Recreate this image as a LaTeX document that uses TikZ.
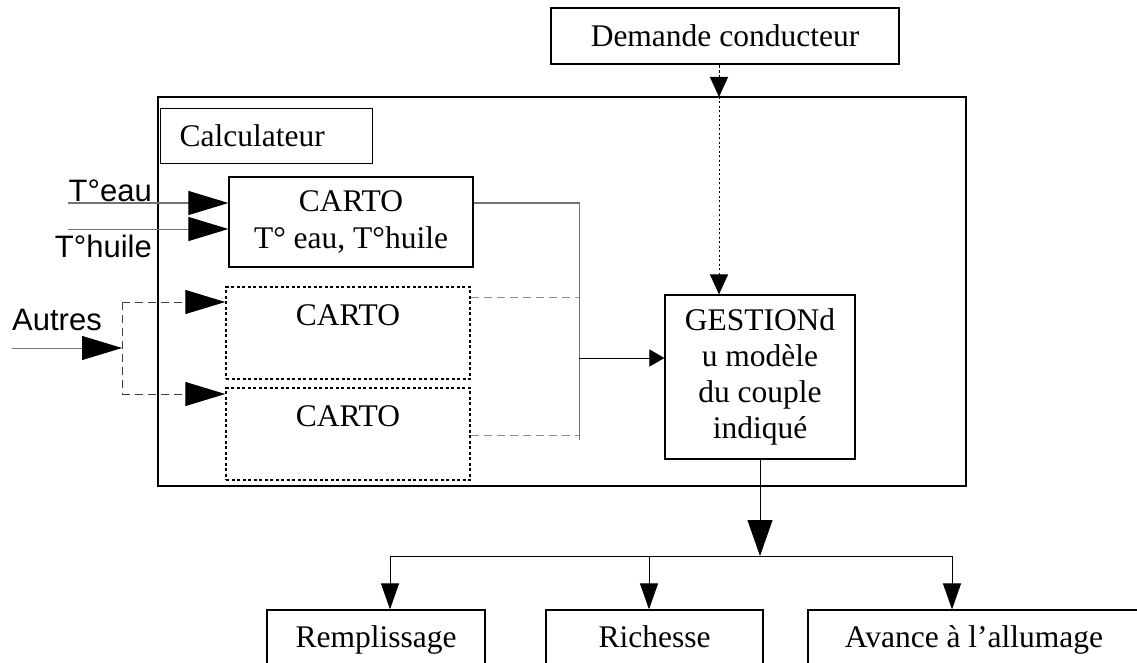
\documentclass[tikz,border=0pt]{standalone}
\usepackage{fontspec}
\setmainfont{Liberation Serif}
\newfontfamily\arialf{Liberation Sans}
\usetikzlibrary{arrows.meta}
\newcommand\serifsz{\fontsize{31.5}{37}\selectfont}
\newcommand\sanssz{\arialf\fontsize{31}{37}\selectfont}
\begin{document}
\begin{tikzpicture}[x=1pt,y=-1pt,
  box/.style={draw, line width=1.2pt, inner sep=0pt, font=\serifsz},
  outbox/.style={box, minimum height=60pt, text height=22pt, text depth=7pt},
  dotbox/.style={draw, line width=1.5pt, dash pattern=on 3pt off 2.5pt, inner sep=0pt},
  lbl/.style={inner sep=0pt, font=\sanssz},
  txt/.style={inner sep=0pt, font=\serifsz},
  conn/.style={line width=1pt, black},
  greyline/.style={line width=1pt, black!55},
  greydash/.style={line width=1pt, black!45, dash pattern=on 8pt off 5pt},
  autdash/.style={line width=1pt, black!75, dash pattern=on 8pt off 5pt},
  bigtip/.style={-{Triangle[length=40pt,width=24pt,color=black,fill=black]}},
  midtip/.style={-{Triangle[length=36pt,width=25pt,color=black,fill=black]}},
  branchtip/.style={-{Triangle[length=26pt,width=18pt,color=black,fill=black]}},
  smalltip/.style={-{Triangle[length=20pt,width=18pt,color=black,fill=black]}},
  tinytip/.style={-{Triangle[length=15pt,width=17pt,color=black,fill=black]}}
]
\clip (0,0) rectangle (1137,663);
\fill[white] (0,0) rectangle (1137,663);

% nodes
\node[box, minimum width=348pt, minimum height=56pt] (dem) at (725,36) {Demande conducteur};
\node[draw, line width=1.8pt, minimum width=808pt, minimum height=389pt, inner sep=0pt] (calc) at (562,291.5) {};
\node[box, anchor=north west, minimum width=212pt, minimum height=55pt, inner xsep=19pt, text width=174pt, align=left] (calclbl) at (160,108) {Calculateur};
\node[box, minimum width=244pt, minimum height=90pt, align=center] (c1) at (351,222) {CARTO\\T° eau, T°huile};
\node[dotbox, minimum width=244pt, minimum height=92pt] (c2) at (348,333) {};
\node[txt] (c2t) at (348,315) {CARTO};
\node[dotbox, minimum width=244pt, minimum height=92pt] (c3) at (348,434) {};
\node[txt] (c3t) at (348,416) {CARTO};
\node[box, minimum width=190pt, minimum height=164pt, align=center, font=\fontsize{31.5}{36}\selectfont] (gest) at (760,377) {GESTIONd\\u modèle\\du couple\\indiqué};
\node[outbox, minimum width=218pt] (remp) at (376,640) {Remplissage};
\node[outbox, minimum width=217pt] (rich) at (654.5,640) {Richesse};
\node[outbox, minimum width=332pt] (av) at (974,640) {Avance à l’allumage};

\node[lbl, anchor=base east] (teau) at (152,201) {T°eau};
\node[lbl, anchor=base east] (thuile) at (152,257) {T°huile};
\node[lbl, anchor=base west] (autres) at (12,330) {Autres};

% coordinates
\coordinate (te0) at (68,203);
\coordinate (th0) at (68,229);
\coordinate (a0) at (12,348);
\coordinate (aj) at (122,348);
\coordinate (a1) at (122,302);
\coordinate (a2) at (122,394);
\coordinate (v1) at (579,203);
\coordinate (v2) at (579,440);
\coordinate (v3) at (579,297);
\coordinate (v4) at (579,435);
\coordinate (vm) at (579,358);
\coordinate (d1) at (719,97);
\coordinate (j) at (760,556);
\coordinate (hl) at (390,556);
\coordinate (hm) at (649,556);
\coordinate (hr) at (952,556);

% inputs
\draw[greyline, bigtip] (te0) -- (te0 -| c1.west);
\draw[greyline, bigtip] (th0) -- (th0 -| c1.west);
\draw[greyline, bigtip] (a0) -- (aj);
\draw[autdash] (a1) -- (a2);
\draw[autdash, bigtip] (a1) -- (a1 -| c2.west);
\draw[autdash, bigtip] (a2) -- (a2 -| c3.west);

% carto outputs
\draw[greyline] (v1 -| c1.east) -- (v1) -- (v2);
\draw[greydash] (v3 -| c2.east) -- (v3);
\draw[greydash] (v4 -| c3.east) -- (v4);
\draw[conn, tinytip] (vm) -- (vm -| gest.west);

% demande
\draw[line width=1pt, dash pattern=on 3pt off 2pt, smalltip] (d1 |- dem.south) -- (d1);
\draw[line width=1pt, dash pattern=on 2pt off 2.5pt, smalltip] (d1) -- (d1 |- gest.north);

% outputs
\draw[conn, midtip] (gest.south) -- (j);
\draw[conn] (hl) -- (hr);
\draw[conn, branchtip] (hl) -- (hl |- remp.north);
\draw[conn, branchtip] (hm) -- (hm |- rich.north);
\draw[conn, branchtip] (hr) -- (hr |- av.north);
\end{tikzpicture}
\end{document}
